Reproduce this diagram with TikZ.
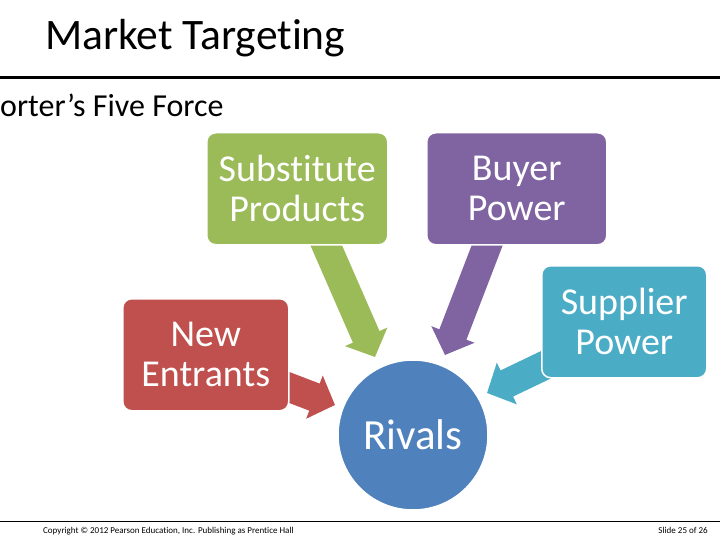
\documentclass[tikz,border=0pt]{standalone}
\usepackage{fontspec}
\setmainfont{Carlito}[Ligatures=NoCommon]
\usetikzlibrary{arrows.meta}
\definecolor{cgreen}{HTML}{9BBB59}
\definecolor{cpurple}{HTML}{8064A2}
\definecolor{cteal}{HTML}{4BACC6}
\definecolor{cred}{HTML}{C0504D}
\definecolor{cblue}{HTML}{4F81BD}
\tikzset{
  forcebox/.style={draw=white, line width=1.5pt, rounded corners=9pt, inner sep=0pt, text=white,
    font=\fontsize{38}{40}\selectfont, align=center, anchor=north west},
  blockarrow/.style={line width=29pt, -{Triangle[length=22pt,width=45pt]}},
}
\begin{document}
\begin{tikzpicture}[x=1pt,y=-1pt]
\useasboundingbox (0,0) rectangle (720,540);
% title
\node[anchor=base west, inner sep=0pt, font=\fontsize{43.5}{44}\selectfont] (title) at (45,50) {Market Targeting};
\coordinate (tl1) at (0,78);
\coordinate (tl2) at (720,78);
\draw[line width=3pt] (tl1) -- (tl2);
\node[anchor=base west, inner sep=0pt, font=\fontsize{32}{32}\selectfont] (sub) at (0,117) {orter’s Five Force};
% arrow end points
\coordinate (gT) at (323,238);
\coordinate (gH) at (375,357);
\coordinate (pT) at (490,238);
\coordinate (pH) at (445,355);
\coordinate (tT) at (560,358);
\coordinate (tH) at (487,393);
\coordinate (rT) at (275,382);
\coordinate (rH) at (335,405);
\draw[blockarrow, draw=cgreen, fill=cgreen] (gT) -- (gH);
\draw[blockarrow, draw=cpurple, fill=cpurple] (pT) -- (pH);
\draw[blockarrow, draw=cteal, fill=cteal] (tT) -- (tH);
\draw[blockarrow, draw=cred, fill=cred] (rT) -- (rH);
% boxes
\node[forcebox, fill=cgreen, minimum width=181pt, minimum height=112pt] (subst) at (206,132) {Substitute\\Products};
\node[forcebox, fill=cpurple, minimum width=180pt, minimum height=112pt] (buyer) at (426,132) {Buyer\\Power};
\node[forcebox, fill=cteal, minimum width=165pt, minimum height=112pt] (supp) at (541,265) {Supplier\\Power};
\node[forcebox, fill=cred, minimum width=166pt, minimum height=112pt] (newe) at (122,298) {New\\Entrants};
\node[circle, draw=white, line width=1.5pt, fill=cblue, minimum size=150pt, inner sep=0pt, text=white,
  font=\fontsize{43}{43}\selectfont] (rivals) at (413,435) {Rivals};
% footer
\coordinate (fl1) at (0,521);
\coordinate (fl2) at (720,521);
\draw[line width=1pt] (fl1) -- (fl2);
\node[anchor=base west, inner sep=0pt, font=\fontsize{9}{9}\selectfont] (copy) at (43,533) {Copyright © 2012 Pearson Education, Inc. Publishing as Prentice Hall};
\node[anchor=base east, inner sep=0pt, font=\fontsize{9}{9}\selectfont] (slide) at (708,533) {Slide 25 of 26};
\end{tikzpicture}
\end{document}
